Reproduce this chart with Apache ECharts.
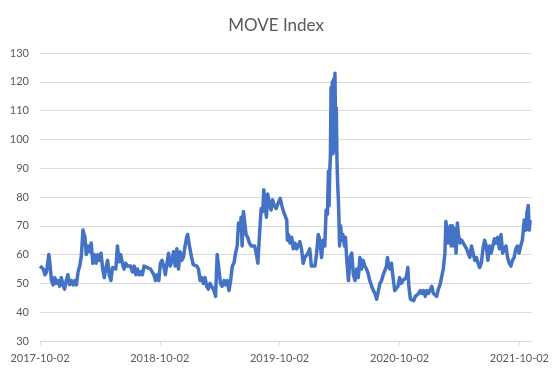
<!DOCTYPE html>
<html>
<head>
<meta charset="utf-8">
<script src="https://cdn.jsdelivr.net/npm/echarts@6/dist/echarts.min.js"></script>
<style>
html,body{margin:0;padding:0;background:#fff;}
#chart{width:552px;height:375px;}
</style>
</head>
<body>
<div id="chart"></div>
<script>
// Days since 2017-10-02
const dayOffsets = [
0,5,10,15,20,27,30,35,40,45,50,55,60,65,70,75,80,85,90,96,101,106,111,116,121,126,131,134,137,141,
146,151,156,161,166,171,176,181,186,191,196,201,206,211,216,221,226,231,236,241,246,251,256,261,266,271,276,282,287,292,
297,302,307,312,317,322,327,332,337,342,347,352,357,362,367,372,377,382,387,392,397,402,407,412,417,422,427,432,437,442,
447,450,454,457,462,467,473,478,483,488,493,498,503,508,513,518,523,528,533,535,540,545,550,555,561,566,571,576,581,586,
591,596,601,605,610,613,616,620,623,628,633,638,644,649,654,659,664,669,674,679,682,686,690,694,699,704,709,714,720,726,
732,737,742,752,754,757,762,767,772,777,782,787,792,797,802,807,812,817,822,827,832,838,843,848,853,858,863,868,872,876,
879,881,883,885,887,889,891,893,895,897,899,901,903,905,907,909,911,913,916,920,923,928,931,935,940,945,950,955,960,965,
970,975,980,985,990,995,1000,1005,1011,1016,1021,1026,1031,1036,1041,1046,1051,1056,1059,1062,1066,1071,1076,1081,1086,1091,1096,1101,1106,1111,
1116,1121,1124,1129,1134,1139,1144,1149,1154,1159,1164,1169,1174,1179,1184,1189,1194,1199,1204,1209,1214,1219,1224,1229,1234,1237,1241,1244,1250,1253,
1257,1261,1265,1268,1272,1275,1280,1285,1290,1295,1300,1305,1310,1315,1320,1325,1330,1335,1340,1345,1350,1355,1360,1365,1370,1375,1380,1385,1390,1395,
1400,1405,1410,1415,1420,1425,1430,1435,1440,1445,1450,1455,1460,1465,1470,1476,1481,1484,1488,1491,1494
];
const moveValues = [
56,55.5,55,53,54,60,57,51,49.5,52,50,51,49,52,49.5,48,51,53,49.5,51,49.5,51,49.5,54,56,59.5,68.5,68,66,60,
63,61,64,57,60,57,60,58,60.5,55,52,55.5,58,53,51,55.5,55,55,63,57.5,60,57,55,57,56,55.5,56,54,56,53,
55,53,54,53,56,56.5,55.5,56,55,55.5,53,51,53,51,57,58,56,53,57,60.5,56,58,61,56,62,55,61,58,59,63,
66,67,64,62,59,56.5,56,56,55,51,52,50,52,49,48,50,49,48,46.5,45.5,60,55,50,49,51,49.5,51,47.5,51,56,
57,60.5,63,71,68.5,73,63,75,72,67,66,64,63,63.5,63,60.5,57,67,76,75,82.5,77,73,81,78,75.5,79,77,76,78,
79.5,77,75,72,65,67,64,66,62,64,62,63,64.5,62,57,59,59,60.5,62,56,55.5,56,60.5,67,65,59,65,63,75.5,74,
89,77,89,94,118,96,120,95,121,96,123,98,111,93,85,80,73,63,70,65,67,63,66,58,51,59,60.5,53,51,55,
52,59,55,58,56,55,53.5,51,49,47.5,46.5,44.5,44,50,51,53,53.5,56,59,56,55,57,52,47.5,47.5,49,52,50,51,50.5,
52,55.5,49,44.5,45,44,45.5,45,46.5,47.5,46.5,47.5,45.5,47.5,46.5,46,49,46.5,46,45.5,48,49.5,50,55,60.5,71.5,67,64,70,63,
70,63,69,60.5,71,67,64,65,64,63,62,60.5,59,63,60.5,58,59,57,55.5,57,62,65,63,58,63,60.5,63,65.5,64,66,
62,67,60.5,62,63,59,57,56,58,59,62,63,60.5,63,65,72,68.5,74.5,77,68.5,72
];
const tickDays = [0, 365, 730, 1096, 1461];
const tickLabels = ['2017-10-02', '2018-10-02', '2019-10-02', '2020-10-02', '2021-10-02'];
const yTicks = [30, 40, 50, 60, 70, 80, 90, 100, 110, 120, 130];

const seriesData = dayOffsets.map((d, i) => [d, moveValues[i]]);
const chart = echarts.init(document.getElementById('chart'), null, {renderer: 'canvas'});
const txt = '#595959';
const font = 'Lato, "Open Sans", sans-serif';
chart.setOption({
  animation: false,
  backgroundColor: '#ffffff',
  title: {
    text: 'MOVE Index',
    left: 'center',
    top: 17,
    padding: 0,
    textStyle: {color: txt, fontFamily: font, fontSize: 17, fontWeight: 'normal'}
  },
  grid: {left: 40, right: 16, top: 53, bottom: 34},
  xAxis: {
    type: 'value',
    min: 0,
    max: 1497,
    axisLine: {show: true, lineStyle: {color: '#D9D9D9', width: 1}},
    axisTick: {show: true, length: 4, lineStyle: {color: '#D9D9D9'}, customValues: tickDays},
    splitLine: {show: false},
    axisLabel: {
      customValues: tickDays,
      margin: 12,
      color: txt, fontFamily: font, fontSize: 11,
      formatter: v => { const k = tickDays.indexOf(v); return k >= 0 ? tickLabels[k] : ''; }
    }
  },
  yAxis: {
    type: 'value',
    min: yTicks[0],
    max: yTicks[yTicks.length - 1],
    interval: 10,
    axisLine: {show: false},
    axisTick: {show: false},
    splitLine: {show: true, lineStyle: {color: '#D9D9D9', width: 1}},
    axisLabel: {margin: 11, color: txt, fontFamily: font, fontSize: 11}
  },
  series: [{
    type: 'line',
    data: seriesData,
    showSymbol: false,
    symbol: 'none',
    lineStyle: {color: '#4472C4', width: 3.5, join: 'round'},
    itemStyle: {color: '#4472C4'}
  }]
});
</script>
</body>
</html>
